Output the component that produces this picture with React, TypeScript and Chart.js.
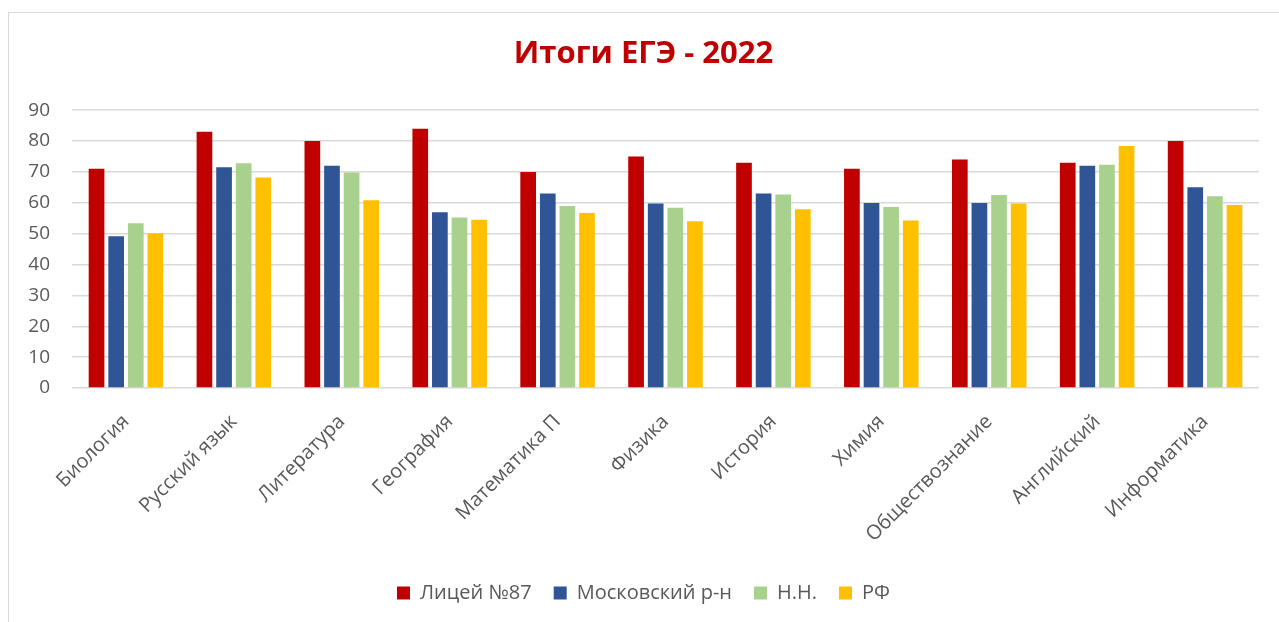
import React, { useEffect, useRef } from "react";
import { Chart, registerables } from "chart.js";

Chart.register(...registerables);

const categories = [
  "Биология",
  "Русский язык",
  "Литература",
  "География",
  "Математика П",
  "Физика",
  "История",
  "Химия",
  "Обществознание",
  "Английский",
  "Информатика",
];

const lyceum87 = [71, 83, 80, 84, 70, 75, 73, 71, 74, 73, 80];
const moscowDistrict = [49.2, 71.5, 72, 56.9, 63, 59.8, 63, 59.9, 59.9, 72, 65];
const nizhnyNovgorod = [53.4, 72.8, 69.8, 55.2, 59, 58.4, 62.7, 58.6, 62.5, 72.3, 62.1];
const russia = [50.1, 68.2, 60.8, 54.5, 56.7, 54, 57.9, 54.3, 59.8, 78.4, 59.3];

const seriesNames = ["Лицей №87", "Московский р-н", "Н.Н.", "РФ"];
const seriesColors = ["#C00000", "#2F5597", "#A9D18E", "#FFC000"];
const yTicks = [0, 10, 20, 30, 40, 50, 60, 70, 80, 90];

const FONT = "'Open Sans', 'Noto Sans', sans-serif";
const GREY = "#595959";

export default function App() {
  const ref = useRef<HTMLCanvasElement | null>(null);

  useEffect(() => {
    document.body.style.overflow = "hidden";
    const ctx = ref.current;
    if (!ctx) return;
    const values = [lyceum87, moscowDistrict, nizhnyNovgorod, russia];
    const chart = new Chart(ctx, {
      type: "bar",
      data: {
        labels: categories,
        datasets: values.map((v, i) => ({
          label: seriesNames[i],
          data: v,
          backgroundColor: seriesColors[i],
          borderWidth: 0,
          barPercentage: 0.8,
          categoryPercentage: 0.727,
        })),
      },
      options: {
        animation: false,
        responsive: false,
        maintainAspectRatio: false,
        layout: { padding: { left: 19, right: 20, top: 0, bottom: 9 } },
        plugins: {
          title: {
            display: true,
            text: "Итоги ЕГЭ - 2022",
            color: "#C00000",
            font: { family: FONT, size: 31, weight: "bold" },
            padding: { top: 23, bottom: 37 },
          },
          legend: {
            position: "bottom",
            labels: {
              color: GREY,
              font: { family: FONT, size: 20 },
              boxWidth: 13,
              boxHeight: 13,
              padding: 22,
            },
          },
          tooltip: { enabled: false },
        },
        scales: {
          x: {
            grid: { display: false, drawTicks: false },
            border: { display: false },
            ticks: {
              color: GREY,
              font: { family: FONT, size: 20 },
              minRotation: 45,
              maxRotation: 45,
              padding: 22,
            },
            afterFit: (scale: any) => {
              scale.height = 173;
            },
          },
          y: {
            min: 0,
            max: 90,
            afterBuildTicks: (scale: any) => {
              scale.ticks = yTicks.map((v) => ({ value: v }));
            },
            grid: { color: "#D9D9D9", lineWidth: 1.5, drawTicks: false },
            border: { display: false },
            ticks: {
              color: GREY,
              font: { family: FONT, size: 19 },
              padding: 22,
            },
            afterFit: (scale: any) => {
              scale.width = 44;
            },
          },
        },
      },
    });
    return () => chart.destroy();
  }, []);

  return (
    <div
      style={{
        position: "fixed",
        left: 8,
        top: 12,
        width: 1271,
        height: 610,
        borderLeft: "1px solid #D9D9D9",
        borderTop: "1px solid #D9D9D9",
        background: "#fff",
      }}
    >
      <canvas ref={ref} width={1270} height={609} style={{ display: "block" }} />
    </div>
  );
}
